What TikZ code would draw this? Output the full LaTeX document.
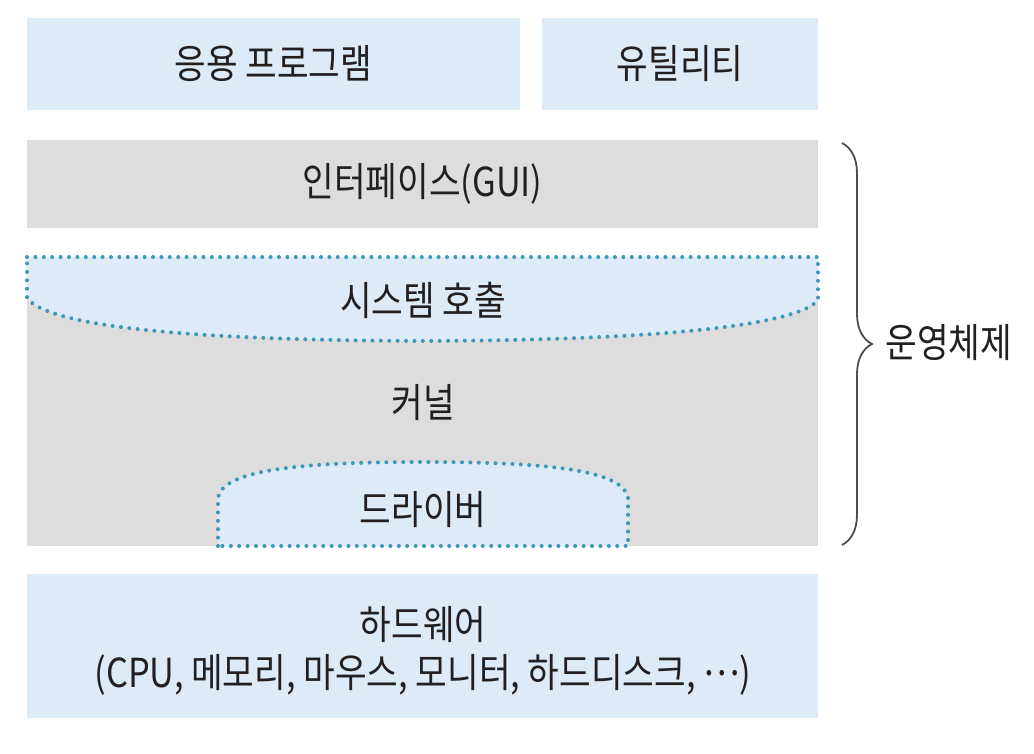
\documentclass[tikz,border=0pt]{standalone}
\usepackage{fontspec}
\setmainfont{Noto Sans CJK KR}[FakeStretch=0.86]
\usetikzlibrary{decorations.pathreplacing}

\definecolor{layerblue}{RGB}{220,235,247}
\definecolor{layergray}{RGB}{221,221,222}
\definecolor{dotblue}{RGB}{62,150,184}
\definecolor{inkgray}{RGB}{35,31,32}

\begin{document}
\begin{tikzpicture}[x=0.5pt, y=-0.5pt,
  layer/.style={fill=layerblue, inner sep=0pt},
  core/.style={fill=layergray, inner sep=0pt},
  lbl/.style={text=inkgray, font=\fontsize{20}{24}\selectfont, inner sep=0pt},
  dots/.style={draw=dotblue, line width=2pt, line cap=round, dash pattern=on 0pt off 4.2pt}]
  \useasboundingbox (0,0) rectangle (1034,754);

  \node[layer, lbl, minimum width=246.5pt, minimum height=46pt] (app) at (273.5,64) {응용 프로그램};
  \node[layer, lbl, minimum width=138pt, minimum height=46pt] (util) at (680,64) {유틸리티};
  \node[core, lbl, minimum width=395.5pt, minimum height=44pt] (gui) at (422.5,184) {인터페이스(GUI)};
  \node[core, minimum width=395.5pt, minimum height=144.5pt] (kernel) at (422.5,401.5) {};

  % system call band on top of the kernel
  \path[fill=layerblue, dots] (27,257) -- (818,257) -- (818,300)
    .. controls (800,322) and (690,340) .. (423,341)
    .. controls (150,340) and (45,322) .. (27,298) -- cycle;
  % driver bump at the bottom
  \path[fill=layerblue, dots] (218,546) -- (218,498)
    .. controls (222,470) and (300,462) .. (423,462)
    .. controls (546,462) and (624,470) .. (628,498) -- (628,546) -- cycle;

  \node[lbl] (syscall) at (423,300) {시스템 호출};
  \node[lbl] (kernelname) at (423,403) {커널};
  \node[lbl] (driver) at (423,510) {드라이버};

  \node[layer, minimum width=395.5pt, minimum height=72pt] (hw) at (422.5,646) {};
  \node[lbl, align=center] (hwtext) at (423,651)
    {하드웨어\\(CPU, 메모리, 마우스, 모니터, 하드디스크, \raisebox{0.3em}{⋯})};

  \coordinate (osTop) at (842,143);
  \coordinate (osBot) at (842,545);
  \draw[inkgray!80, line width=0.9pt, decorate, decoration={brace, amplitude=15pt}] (osTop) -- (osBot);
  \node[lbl, anchor=west] (os) at (885,343) {운영체제};
\end{tikzpicture}
\end{document}
